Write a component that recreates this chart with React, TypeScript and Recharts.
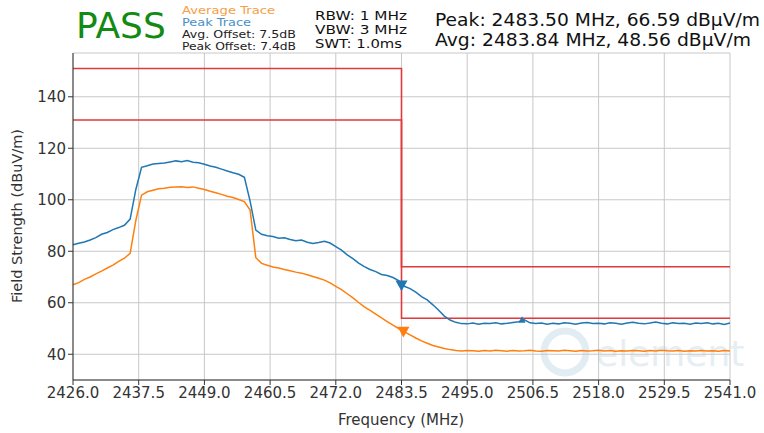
import React from 'react';
import { ComposedChart, Line, Scatter, XAxis, YAxis, CartesianGrid } from 'recharts';

// sweep starts at 2426 MHz, one sample per MHz
const START_MHZ = 2426;

const peakTrace = [
  82.5, 83.1, 83.6, 84.4, 85.3, 86.6, 87.3, 88.4, 89.2, 90.1,
  92.5, 104.0, 112.6, 113.2, 113.9, 114.1, 114.3, 114.7, 115.1, 114.8,
  115.2, 114.6, 114.4, 113.8, 113.1, 112.6, 111.9, 111.2, 110.5, 109.9,
  108.7, 99.5, 88.2, 86.6, 86.0, 85.7, 85.1, 85.2, 84.6, 84.1,
  84.4, 83.5, 83.0, 83.4, 83.9, 83.2, 81.8, 80.4, 78.6, 77.1,
  75.4, 74.0, 72.9, 72.1, 71.0, 70.6, 69.8, 68.6, 66.4, 65.5,
  64.1, 62.4, 61.1, 59.2, 57.1, 54.8, 53.3, 52.4, 51.9, 51.8,
  52.1, 51.7, 52.0, 51.9, 52.2, 51.8, 52.0, 52.3, 52.6, 53.4,
  52.2, 51.9, 52.1, 51.7, 52.0, 51.8, 52.2, 52.0, 51.7, 52.1,
  52.3, 51.9, 52.0, 51.8, 52.2, 52.0, 51.7, 52.1, 52.4, 52.0,
  51.8, 52.1, 52.5, 52.0, 51.8, 52.2, 51.9, 52.0, 51.7, 52.1,
  51.9, 52.2, 51.8, 52.0, 51.6, 52.1,
];

const avgTrace = [
  67.0, 67.8, 69.1, 70.0, 71.2, 72.3, 73.5, 74.6, 76.1, 77.3,
  79.2, 92.0, 101.8, 103.1, 103.7, 104.3, 104.5, 104.9, 105.0, 105.1,
  104.8, 105.0, 104.5, 104.0, 103.3, 102.7, 102.1, 101.4, 100.9, 100.1,
  99.3, 96.0, 77.5, 75.3, 74.6, 73.9, 73.5, 72.9, 72.4, 71.9,
  71.5, 70.9, 70.2, 69.5, 68.8, 67.7, 66.4, 65.1, 63.5, 61.9,
  60.1, 58.4, 57.0, 55.6, 54.1, 52.7, 51.3, 50.0, 48.7, 47.5,
  46.3, 45.2, 44.3, 43.4, 42.8, 42.2, 41.8, 41.5, 41.3, 41.5,
  41.4, 41.2, 41.5, 41.3, 41.6, 41.4, 41.2, 41.5, 41.3, 41.4,
  41.6, 41.3, 41.2, 41.5, 41.4, 41.3, 41.6, 41.4, 41.2, 41.5,
  41.3, 41.4, 41.6, 41.3, 41.5, 41.2, 41.4, 41.3, 41.5, 41.4,
  41.2, 41.5, 41.3, 41.6, 41.4, 41.3, 41.5, 41.2, 41.4, 41.3,
  41.5, 41.3, 41.4, 41.2, 41.5, 41.3,
];

// limit lines (peak and average)
const limitFreqs = [2426, 2483.5, 2483.5, 2541];
const peakLimit = [151, 151, 74, 74];
const avgLimit = [131, 131, 54, 54];

// markers
const peakMarker = { f: 2483.5, v: 66.59 };
const avgMarker = { f: 2483.84, v: 48.56 };
const bandMarker = { f: 2504.6, v: 53.5 };

const xTicks = [2426, 2437.5, 2449, 2460.5, 2472, 2483.5, 2495, 2506.5, 2518, 2529.5, 2541];
const yTicks = [40, 60, 80, 100, 120, 140];

const BLUE = '#1f77b4';
const ORANGE = '#ff7f0e';
const RED = '#e0383b';
const FONT = '"DejaVu Sans", sans-serif';

const toRows = (vals: number[]) => vals.map((v, i) => ({ f: START_MHZ + i, v }));
const peakData = toRows(peakTrace);
const avgData = toRows(avgTrace);
const peakLimitData = limitFreqs.map((f, i) => ({ f, v: peakLimit[i] }));
const avgLimitData = limitFreqs.map((f, i) => ({ f, v: avgLimit[i] }));

const triDown = (size: number) => (props: any) => {
  const { cx, cy, fill } = props;
  const h = size * 0.9;
  return <path d={`M${cx - size / 2},${cy - h / 2} L${cx + size / 2},${cy - h / 2} L${cx},${cy + h / 2} Z`} fill={fill} />;
};
const triUp = (size: number) => (props: any) => {
  const { cx, cy, fill } = props;
  const h = size * 0.9;
  return <path d={`M${cx - size / 2},${cy + h / 2} L${cx + size / 2},${cy + h / 2} L${cx},${cy - h / 2} Z`} fill={fill} />;
};

const tickStyle = { fontFamily: FONT, fontSize: 15, fill: '#333' };

export default function App() {
  return (
    <div style={{ position: 'absolute', left: 0, top: 0, width: 764, height: 433, background: '#fff', overflow: 'hidden' }}>
      {/* watermark */}
      <svg width={764} height={433} style={{ position: 'absolute', left: 0, top: 0 }}>
        <circle cx={565} cy={352} r={21} fill="none" stroke="#e2edf3" strokeWidth={7} />
        <text x={596} y={366} fontFamily={FONT} fontSize={36} fill="#e6eef3">element</text>
      </svg>
      <div style={{ position: 'absolute', left: 0, top: 0 }}>
        <ComposedChart width={764} height={433} margin={{ top: 53, right: 34, bottom: 23, left: 0 }}>
          <CartesianGrid stroke="#c8c8c8" strokeWidth={1} />
          <XAxis
            dataKey="f"
            type="number"
            domain={[2426, 2541]}
            ticks={xTicks}
            tickFormatter={(v: number) => v.toFixed(1)}
            tick={tickStyle}
            tickSize={5}
            height={30}
            stroke="#333"
            allowDuplicatedCategory={false}
          />
          <XAxis xAxisId="top" orientation="top" type="number" domain={[2426, 2541]} tick={false} tickLine={false} height={0} stroke="#333" />
          <YAxis
            type="number"
            domain={[30, 157]}
            ticks={yTicks}
            tick={tickStyle}
            tickSize={5}
            width={73}
            stroke="#333"
          />
          <YAxis yAxisId="right" orientation="right" domain={[30, 157]} tick={false} tickLine={false} width={0} stroke="#333" />
          <Line data={peakLimitData} dataKey="v" stroke={RED} strokeWidth={1.6} dot={false} isAnimationActive={false} />
          <Line data={avgLimitData} dataKey="v" stroke={RED} strokeWidth={1.6} dot={false} isAnimationActive={false} />
          <Line data={avgData} dataKey="v" stroke={ORANGE} strokeWidth={1.5} dot={false} isAnimationActive={false} />
          <Line data={peakData} dataKey="v" stroke={BLUE} strokeWidth={1.5} dot={false} isAnimationActive={false} />
          <Scatter data={[peakMarker]} dataKey="v" fill={BLUE} shape={triDown(12)} isAnimationActive={false} />
          <Scatter data={[avgMarker]} dataKey="v" fill={ORANGE} shape={triDown(12)} isAnimationActive={false} />
          <Scatter data={[bandMarker]} dataKey="v" fill={BLUE} shape={triUp(7)} isAnimationActive={false} />
        </ComposedChart>
      </div>
      {/* titles and axis labels */}
      <svg width={764} height={433} style={{ position: 'absolute', left: 0, top: 0, pointerEvents: 'none' }}>
        <text x={76} y={38} fontFamily={FONT} fontSize={36} fill="#138a13">PASS</text>
        <text x={182} y={14} fontFamily={FONT} fontSize={10.5} textLength={93} lengthAdjust="spacingAndGlyphs" fill="#f5a04a">Average Trace</text>
        <text x={182} y={26} fontFamily={FONT} fontSize={10.5} textLength={69} lengthAdjust="spacingAndGlyphs" fill="#4a90c8">Peak Trace</text>
        <text x={182} y={38} fontFamily={FONT} fontSize={10.5} textLength={114} lengthAdjust="spacingAndGlyphs" fill="#222">Avg. Offset: 7.5dB</text>
        <text x={182} y={50} fontFamily={FONT} fontSize={10.5} textLength={114} lengthAdjust="spacingAndGlyphs" fill="#222">Peak Offset: 7.4dB</text>
        <text x={315} y={20} fontFamily={FONT} fontSize={12.5} textLength={92} lengthAdjust="spacingAndGlyphs" fill="#111">RBW: 1 MHz</text>
        <text x={315} y={34} fontFamily={FONT} fontSize={12.5} textLength={92} lengthAdjust="spacingAndGlyphs" fill="#111">VBW: 3 MHz</text>
        <text x={315} y={48} fontFamily={FONT} fontSize={12.5} textLength={87} lengthAdjust="spacingAndGlyphs" fill="#111">SWT: 1.0ms</text>
        <text x={435} y={26} fontFamily={FONT} fontSize={18} textLength={325} lengthAdjust="spacingAndGlyphs" fill="#111">Peak: 2483.50 MHz, 66.59 dBµV/m</text>
        <text x={435} y={46} fontFamily={FONT} fontSize={18} textLength={316} lengthAdjust="spacingAndGlyphs" fill="#111">Avg: 2483.84 MHz, 48.56 dBµV/m</text>
        <text x={401} y={425} textAnchor="middle" fontFamily={FONT} fontSize={15} fill="#333">Frequency (MHz)</text>
        <text x={22} y={216} textAnchor="middle" transform="rotate(-90 22 216)" fontFamily={FONT} fontSize={14.5} fill="#333">Field Strength (dBuV/m)</text>
      </svg>
    </div>
  );
}
